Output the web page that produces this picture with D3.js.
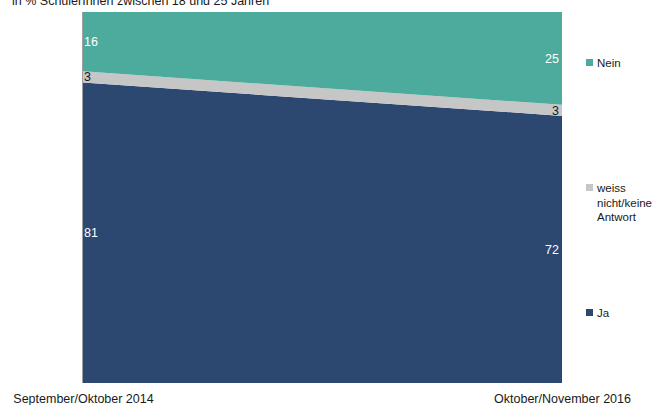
<!DOCTYPE html>
<html><head><meta charset="utf-8">
<script src="https://cdn.jsdelivr.net/npm/d3@7"></script>
<style>body{margin:0;background:#fff}svg{display:block}text{font-family:"Liberation Sans",Arial,sans-serif;font-size:11px}</style>
</head><body>
<script>
const categories = ["September/Oktober 2014", "Oktober/November 2016"];
const seriesNames = ["Ja", "weiss nicht/keine Antwort", "Nein"];
const ja = [81, 72];
const weiss = [3, 3];
const nein = [16, 25];
const legendLabels = [["Nein"], ["weiss", "nicht/keine", "Antwort"], ["Ja"]];
const subtitle = "in % SchülerInnen zwischen 18 und 25 Jahren";

const W = 657, H = 405;
const m = {left: 83, right: 95, top: 12, bottom: 22};
const svg = d3.select("body").append("svg").attr("width", W).attr("height", H);

const rows = categories.map((c, i) => ({cat: c, ja: ja[i], weiss: weiss[i], nein: nein[i]}));
const keys = ["ja", "weiss", "nein"];
const colors = {ja: "#2C4770", weiss: "#C6C6C6", nein: "#4DAB9E"};
const textColors = {ja: "#ffffff", weiss: "#1a1a1a", nein: "#ffffff"};

const x = d3.scalePoint().domain(categories).range([m.left, W - m.right]);
const y = d3.scaleLinear().domain([0, 100]).range([H - m.bottom, m.top]);

const stack = d3.stack().keys(keys)(rows);
const area = d3.area().x(d => x(d.data.cat)).y0(d => y(d[0])).y1(d => y(d[1]));

svg.append("g").selectAll("path").data(stack).join("path")
  .attr("d", area).attr("fill", d => colors[d.key]);

// left axis line
svg.append("line").attr("x1", x(categories[0]) - 0.5).attr("x2", x(categories[0]) - 0.5)
  .attr("y1", y(100)).attr("y2", y(0)).attr("stroke", "#a0a0a0").attr("stroke-width", 1);

// value labels
stack.forEach(s => {
  s.forEach((d, i) => {
    const isLeft = i === 0;
    svg.append("text")
      .attr("x", isLeft ? x(d.data.cat) + 1 : x(d.data.cat) - 3)
      .attr("y", y((d[0] + d[1]) / 2))
      .attr("dy", "0.35em")
      .attr("text-anchor", isLeft ? "start" : "end")
      .attr("fill", textColors[s.key])
      .style("font-size", "12.5px")
      .text(d.data[s.key]);
  });
});

// x axis labels
const xAxis = d3.axisBottom(x).tickSize(0).tickPadding(11);
const gx = svg.append("g").attr("transform", `translate(0,${H - m.bottom})`).call(xAxis);
gx.select(".domain").remove();
gx.selectAll("text").attr("fill", "#1a1a1a").style("font-size", "12.5px").attr("font-family", null);

// subtitle
svg.append("text").attr("x", 12).attr("y", 5).attr("fill", "#1a1a1a").style("font-size", "12.5px").text(subtitle);

// legend
const legendKeys = ["nein", "weiss", "ja"];
const legendY = [63, 188, 313];
legendKeys.forEach((k, i) => {
  const g = svg.append("g").attr("transform", `translate(586,${legendY[i]})`);
  g.append("rect").attr("x", 0).attr("y", -4).attr("width", 7).attr("height", 7).attr("fill", colors[k]);
  legendLabels[i].forEach((t, j) => {
    g.append("text").attr("x", 11).attr("y", j * 14.5).attr("dy", "0.35em").attr("fill", "#1a1a1a").style("font-size", "11.5px").text(t);
  });
});
</script>
</body></html>
